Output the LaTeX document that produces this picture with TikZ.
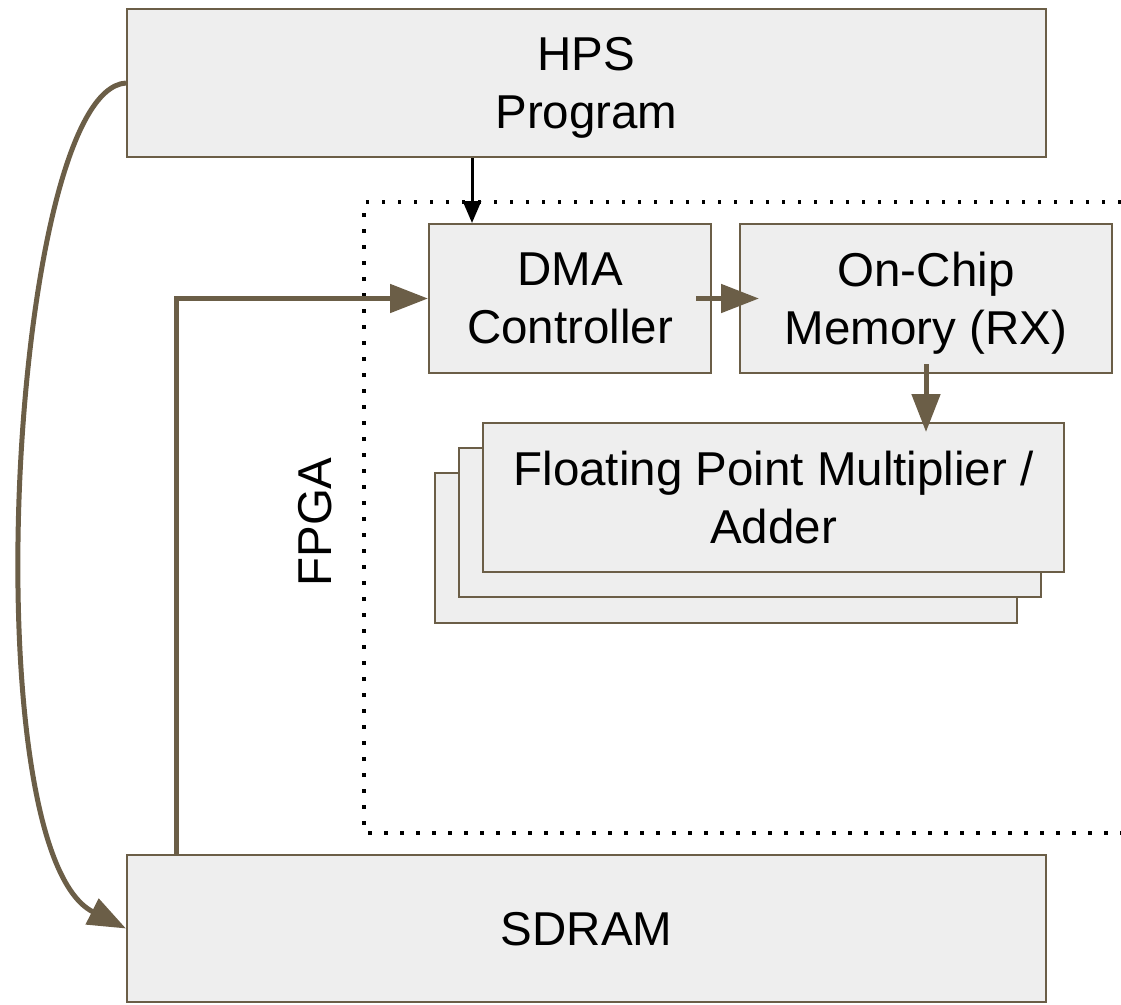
\documentclass[tikz,border=0pt]{standalone}
\usepackage{fontspec}
\setmainfont{Liberation Sans}
\usetikzlibrary{arrows.meta,calc}
\definecolor{brn}{HTML}{6B5E47}
\definecolor{boxfill}{HTML}{EEEEEE}
\begin{document}
\begin{tikzpicture}[x=1pt,y=-1pt,
  blk/.style={draw=brn,line width=2pt,fill=boxfill,inner sep=0pt,align=center,
    text depth=0pt,font=\fontsize{47.5}{58}\selectfont},
  barrow/.style={draw=brn,line width=5pt,-{Triangle[length=38pt,width=28pt]}},
  karrow/.style={draw=black,line width=3pt,-{Triangle[length=22pt,width=18pt]}},
  fpgaline/.style={draw=black,line width=3.5pt,dash pattern=on 3.5pt off 12.5pt}]
\useasboundingbox (0,0) rectangle (1121,1004);
% FPGA region
\draw[fpgaline] (1121,202) -- (364,202) -- (364,833) -- (1121,833);
\node[rotate=90,font=\fontsize{47.5}{58}\selectfont] (fpga) at (315,522) {FPGA};
% boxes
\node[blk,minimum width=919pt,minimum height=148pt] (hps) at (586.5,83) {HPS\\Program};
\node[blk,minimum width=282pt,minimum height=149pt] (dma) at (570,298.5) {DMA\\Controller};
\node[blk,minimum width=372pt,minimum height=149pt] (chip) at (926,298.5) {On-Chip\\Memory (RX)};
\node[blk,minimum width=582pt,minimum height=150pt] (fp3) at (726,548) {};
\node[blk,minimum width=582pt,minimum height=149pt] (fp2) at (750,522.5) {};
\node[blk,minimum width=581pt,minimum height=149pt] (fp1) at (773.5,497.5) {Floating Point Multiplier /\\Adder};
\node[blk,minimum width=919pt,minimum height=147pt] (sdram) at (586.5,928.5) {SDRAM};
% connectors
\coordinate (dmain) at ([xshift=44pt]dma.north west);
\draw[karrow] (hps.south -| dmain) -- (dmain);
\draw[barrow] ([xshift=-16pt]dma.east) -- ([xshift=20pt]chip.west);
\coordinate (fptop) at (chip.south |- fp1.north);
\draw[barrow] ([yshift=10pt]chip.south) -- ([yshift=-10pt]fptop);
\draw[barrow] ([xshift=50pt]sdram.north west) |- (dma.west);
\draw[barrow] (hps.west) .. controls (10,90) and (-30,850) .. (sdram.west);
\end{tikzpicture}
\end{document}
